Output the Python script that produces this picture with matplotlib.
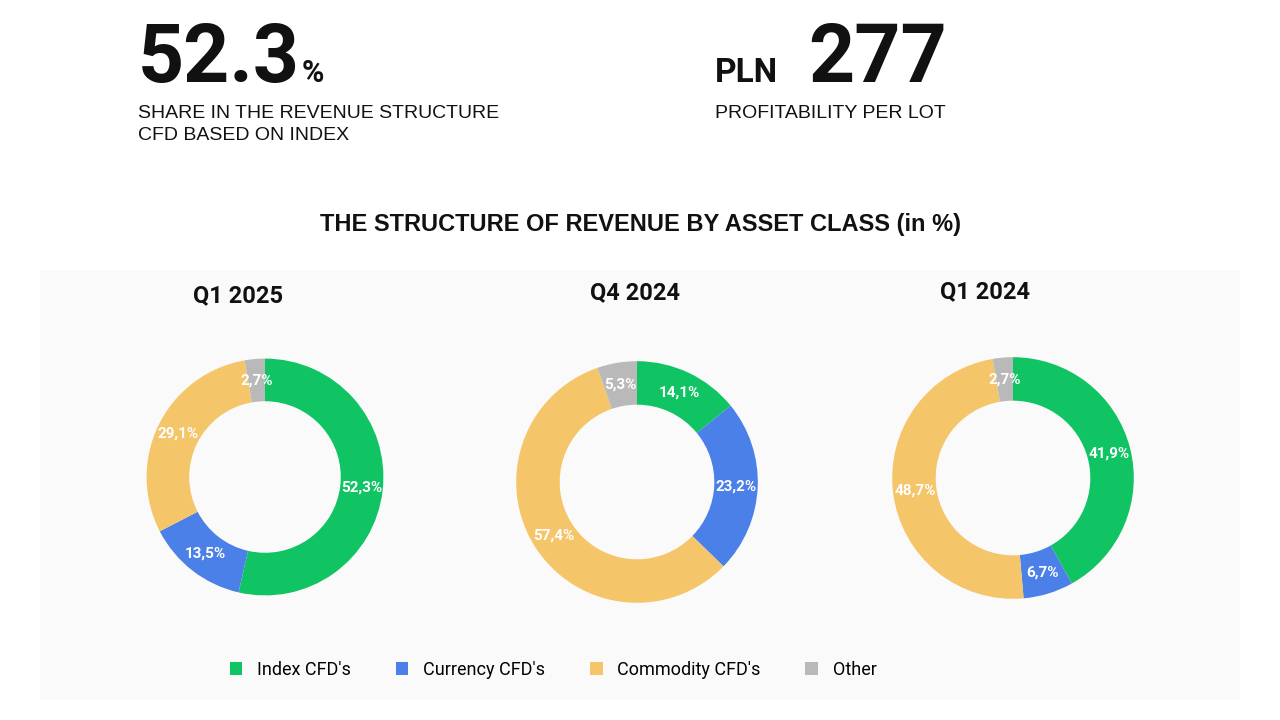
import matplotlib

matplotlib.use("Agg")
import matplotlib.pyplot as plt
from matplotlib.patches import Patch
import numpy as np

matplotlib.rcParams["font.family"] = ["Roboto", "DejaVu Sans"]

W, H = 1280, 720

categories = ["Index CFD's", "Currency CFD's", "Commodity CFD's", "Other"]
colors = ["#10c464", "#4a80e8", "#f5c56a", "#b9b9b9"]
quarters = ["Q1 2025", "Q4 2024", "Q1 2024"]
q1_2025 = [52.3, 13.5, 29.1, 2.7]
q4_2024 = [14.1, 23.2, 57.4, 5.3]
q1_2024 = [41.9, 6.7, 48.7, 2.7]
series = [q1_2025, q4_2024, q1_2024]

# donut centres/radius in pixels
centres = [(265, 477, 148), (637, 482, 151), (1013, 478, 151)]
title_pos = [(238, 296), (635, 293), (985, 292)]


def fx(px):
    return px / W


def fy(py):
    return 1 - py / H


fig = plt.figure(figsize=(12.8, 7.2), dpi=100, facecolor="white")

# light panel behind the donuts
bg = fig.add_axes([fx(40), fy(700), fx(1200), 430 / H], zorder=-1)
bg.set_facecolor("#fafafa")
bg.set_xticks([])
bg.set_yticks([])
for s in bg.spines.values():
    s.set_visible(False)

fig.text(fx(138), fy(82), "52.3", fontsize=58, fontweight="bold", color="#111111", va="baseline")
fig.text(fx(302), fy(82), "%", fontsize=22, fontweight="bold", color="#111111", va="baseline")
fig.text(fx(138), fy(118), "SHARE IN THE REVENUE STRUCTURE", fontsize=14, color="#111111",
         va="baseline", family="Liberation Sans")
fig.text(fx(138), fy(140), "CFD BASED ON INDEX", fontsize=14, color="#111111",
         va="baseline", family="Liberation Sans")

fig.text(fx(715), fy(82), "PLN", fontsize=24, fontweight="bold", color="#111111", va="baseline")
fig.text(fx(808), fy(82), "277", fontsize=58, fontweight="bold", color="#111111", va="baseline")
fig.text(fx(715), fy(118), "PROFITABILITY PER LOT", fontsize=14, color="#111111",
         va="baseline", family="Liberation Sans")

fig.text(0.5, fy(224), "THE STRUCTURE OF REVENUE BY ASSET CLASS (in %)", fontsize=17,
         fontweight="bold", ha="center", va="center", color="#111111", family="Liberation Sans")

for (cx, cy, r), vals, q, (tx, ty) in zip(centres, series, quarters, title_pos):
    ax = fig.add_axes([fx(cx - r), fy(cy + r), 2 * r / W, 2 * r / H])
    ax.pie(vals, colors=colors, startangle=90, counterclock=False,
           wedgeprops=dict(width=0.36, edgecolor="none"))
    ax.set_aspect("equal")
    ax.patch.set_alpha(0)
    total = sum(vals)
    start = 90.0
    for v in vals:
        mid = np.deg2rad(start - v / total * 360 / 2)
        start -= v / total * 360
        ax.text(0.82 * np.cos(mid), 0.82 * np.sin(mid), f"{v:.1f}%".replace(".", ","),
                ha="center", va="center", color="white", fontsize=11, fontweight="bold")
    fig.text(fx(tx), fy(ty), q, fontsize=17, fontweight="bold", ha="center", va="center", color="#111111")

handles = [Patch(facecolor=c, edgecolor="none") for c in colors]
fig.legend(handles, categories, loc="center", bbox_to_anchor=(fx(553), fy(670)), ncol=4,
           frameon=False, fontsize=13, handlelength=0.7, handleheight=0.7, columnspacing=2.5)

fig.savefig("out.png", dpi=100, facecolor="white")
